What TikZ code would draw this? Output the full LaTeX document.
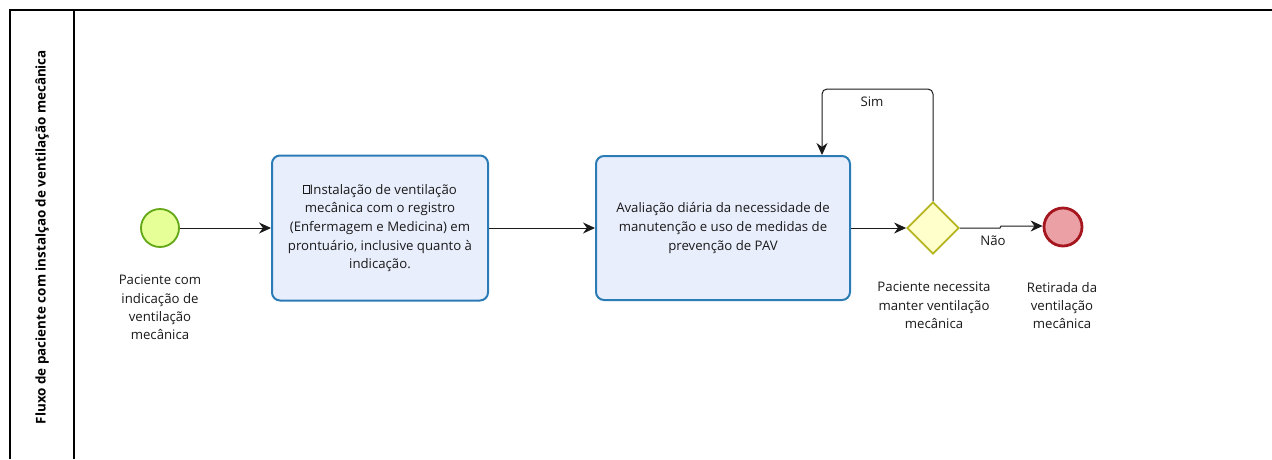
\documentclass[tikz,border=0pt]{standalone}
\usepackage{fontspec}
\setmainfont{Open Sans}
\usetikzlibrary{arrows.meta,shapes.geometric}
\definecolor{taskfill}{HTML}{E9EEFC}
\definecolor{taskline}{HTML}{2B7CB6}
\definecolor{startfill}{HTML}{E6FF97}
\definecolor{startline}{HTML}{62A716}
\definecolor{endfill}{HTML}{EBA0A5}
\definecolor{endline}{HTML}{A5161E}
\definecolor{gatefill}{HTML}{FFFFCC}
\definecolor{gateline}{HTML}{B5B520}
\definecolor{ink}{HTML}{1A1A1A}
\tikzset{
  lbl/.style={font=\fontsize{13.2}{18.3}\selectfont, text=ink, align=center, inner sep=0pt},
  task/.style={draw=taskline, line width=2pt, fill=taskfill, rounded corners=8pt, minimum width=216pt, minimum height=145pt, align=center, font=\fontsize{13.2}{18.7}\selectfont, text=ink, inner sep=0pt},
  startev/.style={circle, draw=startline, line width=1.8pt, fill=startfill, minimum size=38pt, inner sep=0pt},
  endev/.style={circle, draw=endline, line width=2.8pt, fill=endfill, minimum size=38pt, inner sep=0pt},
  gate/.style={diamond, draw=gateline, line width=1.8pt, fill=gatefill, minimum width=52pt, minimum height=52pt, inner sep=0pt, aspect=1},
  flow/.style={draw=ink, line width=1pt, -{Stealth[length=12pt,width=11pt]}},
  poolline/.style={draw=black, line width=1.4pt}
}
\newcommand{\missingglyph}{\raisebox{0.05em}{\fboxsep=0pt\fboxrule=0.5pt\fbox{\rule{0pt}{0.62em}\hspace{0.42em}}}}
\begin{document}
\begin{tikzpicture}[x=1pt,y=-1pt]
\useasboundingbox (0,0) rectangle (1272,459);
\fill[white] (0,0) rectangle (1272,459);
% pool
\coordinate (p1) at (10,10);
\coordinate (p2) at (1272,10);
\coordinate (p3) at (10,459);
\coordinate (p4) at (74,10);
\coordinate (p5) at (74,459);
\draw[poolline] (p3) -- (p1) -- (p2);
\draw[poolline] (p4) -- (p5);
\node[rotate=90, font=\bfseries\fontsize{13.4}{16}\selectfont, text=black, inner sep=0pt] (title) at (42,237) {Fluxo de paciente com instalçao de ventilação mecânica};
% nodes
\node[startev] (s) at (160,228) {};
\node[task, minimum width=216pt, minimum height=145pt] (t1) at (380,228) {\missingglyph Instalação de ventilação\\mecânica com o registro\\(Enfermagem e Medicina) em\\prontuário, inclusive quanto à\\indicação.};
\node[task, minimum width=254pt, minimum height=144pt] (t2) at (723,228) {Avaliação diária da necessidade de\\manutenção e uso de medidas de\\prevenção de PAV};
\node[gate] (g) at (933,228) {};
\node[endev] (e) at (1063,227) {};
% labels
\node[lbl, anchor=north] (ls) at (160,275) {Paciente com\\indicação de\\ventilação\\mecânica};
\node[lbl, anchor=north] (lg) at (934,282) {Paciente necessita\\manter ventilação\\mecânica};
\node[lbl, anchor=north] (le) at (1062,282) {Retirada da\\ventilação\\mecânica};
% flows
\draw[flow] (s) -- (t1);
\draw[flow] (t1) -- (t2);
\draw[flow] (t2) -- (g);
\coordinate (c1) at (933,89);
\coordinate (c2) at (822,89);
\draw[flow, rounded corners=5pt] (g.north) -- (c1) -- (c2) -- (c2 |- t2.north);
\node[lbl] (sim) at (872,102) {Sim};
\coordinate (n1) at (1000,228);
\coordinate (n2) at (1001,226);
\draw[flow] (g.east) -- (n1) -- (n2) -- (e.west |- n2);
\node[lbl] (nao) at (993,241) {Não};
\end{tikzpicture}
\end{document}
